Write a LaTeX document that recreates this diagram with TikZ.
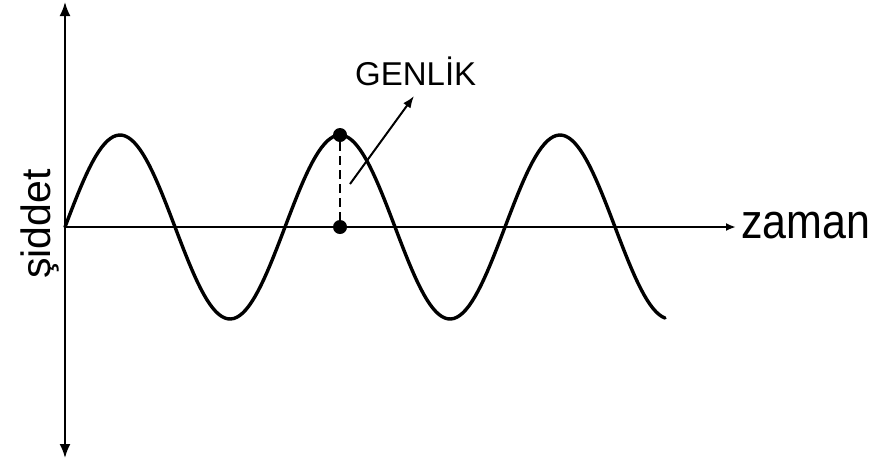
\documentclass[tikz,border=0pt]{standalone}
\usepackage{fontspec}
\setmainfont{Liberation Sans}
\usetikzlibrary{arrows.meta}
\usetikzlibrary{positioning}

\begin{document}
\begin{tikzpicture}[x=1pt,y=-1pt,
  axis/.style={line width=2pt},
  wave/.style={line width=3.4pt},
  dot/.style={circle,fill=black,inner sep=0pt,minimum size=14pt},
  label/.style={inner sep=0pt,font=\fontsize{#1}{#1}\selectfont}]
\useasboundingbox (0,0) rectangle (877,461);
% axes
\coordinate (top) at (65,2);
\coordinate (bottom) at (65,458);
\coordinate (origin) at (65,227);
\coordinate (tend) at (736,227);
\draw[axis,{Latex[length=14pt,width=11pt]}-{Latex[length=14pt,width=11pt]}] (top) -- (bottom);
\draw[axis,-{Latex[length=10pt,width=8pt]}] (origin) -- (tend);
\node[label=43,anchor=base west] (zaman) at (741,238) {\scalebox{1}[1.14]{zaman}};
\node[label=41,anchor=base,rotate=90] (siddet) at (50,224) {şiddet};
% wave
\draw[wave,line cap=round] plot[domain=0:600,samples=200]
  ({65+\x},{227-92*sin(\x/220*360)});
% amplitude
\node[dot] (peak) at (340,135) {};
\node[dot] (foot) at (340,227) {};
\draw[line width=2pt,dash pattern=on 9pt off 5pt] (peak) -- (foot);
\node[label=33,anchor=base west] (genlik) at (355,85) {GENLİK};
\coordinate (tail) at (350,184);
\coordinate (head) at (414,96);
\draw[line width=2pt,-{Latex[length=12pt,width=9pt]}] (tail) -- (head);
\end{tikzpicture}
\end{document}
